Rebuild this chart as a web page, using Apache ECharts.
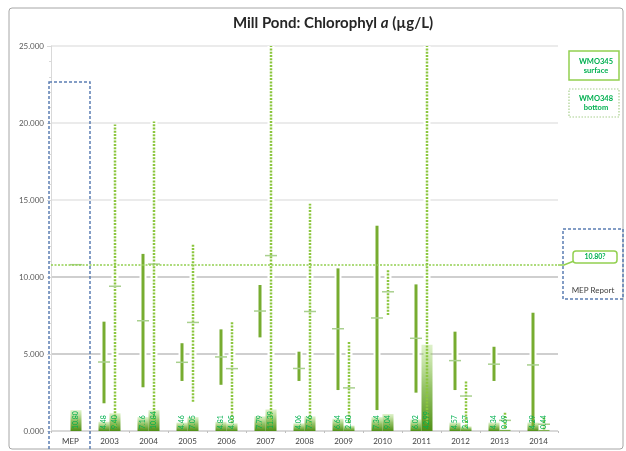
<!DOCTYPE html>
<html>
<head>
<meta charset="utf-8">
<script src="https://cdn.jsdelivr.net/npm/echarts@6/dist/echarts.min.js"></script>
<style>
  html, body { margin: 0; padding: 0; background: #fff; }
  #graph1 { width: 626px; height: 451px; }
</style>
</head>
<body>
<div id="graph1"></div>
<script>
var categories = ['MEP', '2003', '2004', '2005', '2006', '2007', '2008', '2009', '2010', '2011', '2012', '2013', '2014'];

// WMO345 surface: min / max range, mean
var surfMin  = [null, 1.8, 2.84, 3.25, 3.0, 6.08, 3.25, 2.66, 1.36, 2.49, 2.66, 3.25, 0.3];
var surfMax  = [null, 7.1, 11.5, 5.7, 6.6, 9.48, 5.15, 10.56, 13.33, 9.52, 6.45, 5.47, 7.68];
var surfMean = [null, 4.48, 7.16, 4.46, 4.81, 7.79, 4.06, 6.64, 7.34, 6.02, 4.57, 4.34, 4.29];
var surfBar  = [null, 0.6, 0.9, 0.55, 0.6, 0.95, 0.5, 0.8, 0.9, 0.75, 0.55, 0.55, 0.55];

// WMO348 bottom (MEP report value sits in this slot)
var botMin  = [null, 0.3, 0.5, 1.9, 0.5, 0.5, 0.5, 0.5, 7.53, 0.5, 0.3, 0.2, 0.1];
var botMax  = [null, 19.9, 20.1, 12.1, 7.1, 26, 14.76, 5.86, 10.52, 26, 3.25, 1.2, 0.9];
var botMean = [10.80, 9.40, 10.84, 7.05, 4.05, 11.39, 7.76, 2.80, 9.04, 42.99, 2.27, 0.69, 0.44];
var botBar  = [1.35, 1.15, 1.35, 0.9, 0.5, 1.4, 0.95, 0.35, 1.1, 5.6, 0.3, 0.1, 0.08];

var yTicks = [0, 5, 10, 15, 20, 25];
var mepRef = 10.80;
var mepRefLabel = '10.80?';

var FONT = 'Lato, "Open Sans", sans-serif';
var GREEN = '#77ac30';
var DOT_GREEN = '#8cc63f';
var TXT_GREEN = '#00b050';
var OFF = 5.5;
var yTop = yTicks[yTicks.length - 1];

var myChart1 = echarts.init(document.getElementById('graph1'));

function rangeData(mins, maxs, means) {
    var out = [];
    for (var i = 0; i < categories.length; i++) {
        out.push([i, mins[i], maxs[i], means[i]]);
    }
    return out;
}

function rangeRenderer(off, dotted, outline) {
    return function (params, api) {
        var i = api.value(0), lo = api.value(1), hi = api.value(2), mean = api.value(3);
        var x = api.coord([i, 0])[0] + off;
        var kids = [];
        if (!isNaN(lo) && !isNaN(hi)) {
            var y1 = api.coord([i, lo])[1];
            var y2 = api.coord([i, Math.min(hi, yTop)])[1];
            kids.push({
                type: 'line',
                shape: { x1: x, y1: y1, x2: x, y2: y2 },
                style: outline
                    ? { stroke: '#fff', lineWidth: 7 }
                    : { stroke: dotted ? DOT_GREEN : GREEN, lineWidth: dotted ? 2.5 : 3, lineDash: dotted ? [2, 1.3] : null }
            });
        }
        if (!outline && !isNaN(mean) && mean <= yTop) {
            var ym = api.coord([i, mean])[1];
            kids.push({
                type: 'line',
                shape: { x1: x - 6, y1: ym, x2: x + 6, y2: ym },
                style: { stroke: '#a9d08e', lineWidth: 1.5 }
            });
        }
        return { type: 'group', children: kids };
    };
}

// vertical mean labels sitting inside the small bars
function labelRenderer(off, means) {
    return function (params, api) {
        var v = means[params.dataIndex];
        if (v == null) return null;
        var p = api.coord([api.value(0), 0]);
        return {
            type: 'text',
            x: p[0] + off,
            y: p[1] - 2,
            rotation: Math.PI / 2,
            style: {
                text: v.toFixed(2),
                fill: TXT_GREEN,
                fontSize: 7,
                fontFamily: FONT,
                align: 'left',
                verticalAlign: 'middle'
            }
        };
    };
}

function barGrad() {
    return new echarts.graphic.LinearGradient(0, 0, 0, 1, [
        { offset: 0, color: 'rgba(146,208,80,0.3)' },
        { offset: 0.5, color: 'rgba(112,173,51,0.75)' },
        { offset: 1, color: '#4f8f16' }
    ]);
}

var idx = categories.map(function (c, i) { return [i, 0]; });

var option = {
    animation: false,
    title: {
        text: '{n|Mill Pond: Chlorophyl }{i|a}{n| (µg/L)}',
        left: 328,
        top: 11,
        textAlign: 'center',
        textStyle: {
            rich: {
                n: { fontSize: 15, fontWeight: 'bold', color: '#262626', fontFamily: FONT },
                i: { fontSize: 15, fontWeight: 'bold', fontStyle: 'italic', color: '#262626', fontFamily: FONT }
            }
        }
    },
    grid: { left: 51, right: 68, top: 46, bottom: 20 },
    xAxis: {
        type: 'category',
        data: categories,
        axisLine: { show: false },
        axisTick: { show: true, length: 2, lineStyle: { color: '#bfbfbf' } },
        axisLabel: { color: '#404040', fontSize: 8, fontFamily: FONT, margin: 6 }
    },
    yAxis: {
        type: 'value',
        min: yTicks[0],
        max: yTop,
        interval: 5,
        axisLine: { show: true, lineStyle: { color: '#d9d9d9' } },
        axisTick: { show: true, length: 4, lineStyle: { color: '#d9d9d9' } },
        minorTick: { show: true, splitNumber: 5, length: 2, lineStyle: { color: '#d9d9d9' } },
        axisLabel: {
            color: '#595959', fontSize: 8, fontFamily: FONT, margin: 7,
            formatter: function (v) { return v.toFixed(3); }
        },
        splitLine: {
            lineStyle: { color: ['#d9d9d9', '#cfcfcf', '#cfcfcf', '#ebebeb', '#ebebeb', '#ebebeb'], width: 2 }
        }
    },
    series: [
        {
            type: 'custom', name: 'outline345', z: 1, silent: true,
            renderItem: rangeRenderer(-OFF, false, true),
            encode: { x: 0, y: [1, 2, 3] },
            data: rangeData(surfMin, surfMax, surfMean)
        },
        {
            type: 'custom', name: 'outline348', z: 1, silent: true,
            renderItem: rangeRenderer(OFF, true, true),
            encode: { x: 0, y: [1, 2, 3] },
            data: rangeData(botMin, botMax, botMean)
        },
        {
            type: 'bar', name: 'WMO345 surface', z: 2,
            barWidth: 11, barGap: '0%',
            itemStyle: { color: barGrad() },
            data: surfBar
        },
        {
            type: 'bar', name: 'WMO348 bottom', z: 2,
            barWidth: 11, barGap: '0%',
            itemStyle: { color: barGrad() },
            data: botBar
        },
        {
            type: 'custom', name: 'range345', z: 3,
            renderItem: rangeRenderer(-OFF, false, false),
            encode: { x: 0, y: [1, 2, 3] },
            data: rangeData(surfMin, surfMax, surfMean)
        },
        {
            type: 'custom', name: 'range348', z: 3,
            renderItem: rangeRenderer(OFF, true, false),
            encode: { x: 0, y: [1, 2, 3] },
            data: rangeData(botMin, botMax, botMean),
            markLine: {
                silent: true,
                symbol: 'none',
                label: { show: false },
                lineStyle: { color: '#92d050', width: 1.5, type: [2, 1.5] },
                data: [{ yAxis: mepRef }]
            }
        },
        {
            type: 'custom', name: 'label345', z: 4, silent: true,
            renderItem: labelRenderer(-OFF, surfMean),
            encode: { x: 0, y: 1 },
            data: idx
        },
        {
            type: 'custom', name: 'label348', z: 4, silent: true,
            renderItem: labelRenderer(OFF, botMean),
            encode: { x: 0, y: 1 },
            data: idx
        }
    ],
    graphic: [
        // chart frame
        { type: 'rect', x: 9, y: 8, shape: { width: 614, height: 441, r: 3 },
          style: { fill: 'none', stroke: '#a6a6a6', lineWidth: 1 }, z: 0 },
        // MEP dashed box
        { type: 'rect', x: 49, y: 82, shape: { width: 41, height: 380 },
          style: { fill: 'none', stroke: '#5b7db3', lineWidth: 1.5, lineDash: [3, 2] }, z: 10 },
        // MEP Report box
        { type: 'rect', x: 563, y: 229, shape: { width: 60, height: 70 },
          style: { fill: 'none', stroke: '#5b7db3', lineWidth: 1.5, lineDash: [3, 2] }, z: 10 },
        { type: 'text', x: 593, y: 290,
          style: { text: 'MEP Report', fill: '#404040', fontSize: 8, fontFamily: FONT,
                   align: 'center', verticalAlign: 'middle' }, z: 10 },
        // callout for reference value
        { type: 'polyline', shape: { points: [[558, 265], [564, 265], [574, 261]] },
          style: { stroke: '#92d050', lineWidth: 1.5, fill: 'none' }, z: 10 },
        { type: 'rect', x: 573, y: 251, shape: { width: 44, height: 12, r: 3 },
          style: { fill: '#fff', stroke: '#92d050', lineWidth: 1.5 }, z: 10 },
        { type: 'text', x: 595, y: 257,
          style: { text: mepRefLabel, fill: TXT_GREEN, fontSize: 7, fontWeight: 'bold', fontFamily: FONT,
                   align: 'center', verticalAlign: 'middle' }, z: 11 },
        // legend boxes
        { type: 'rect', x: 569, y: 51, shape: { width: 50, height: 29 },
          style: { fill: '#fff', stroke: '#92d050', lineWidth: 1.5 }, z: 10 },
        { type: 'text', x: 596, y: 66,
          style: { text: 'WMO345\nsurface', fill: TXT_GREEN, fontSize: 7.5, fontWeight: 'bold', fontFamily: FONT,
                   align: 'center', verticalAlign: 'middle', lineHeight: 9 }, z: 11 },
        { type: 'rect', x: 569, y: 89, shape: { width: 50, height: 28 },
          style: { fill: '#fff', stroke: '#a9d08e', lineWidth: 1.2, lineDash: [1.5, 1.5] }, z: 10 },
        { type: 'text', x: 596, y: 103,
          style: { text: 'WMO348\nbottom', fill: TXT_GREEN, fontSize: 7.5, fontWeight: 'bold', fontFamily: FONT,
                   align: 'center', verticalAlign: 'middle', lineHeight: 9 }, z: 11 }
    ]
};
myChart1.setOption(option);
</script>
</body>
</html>
